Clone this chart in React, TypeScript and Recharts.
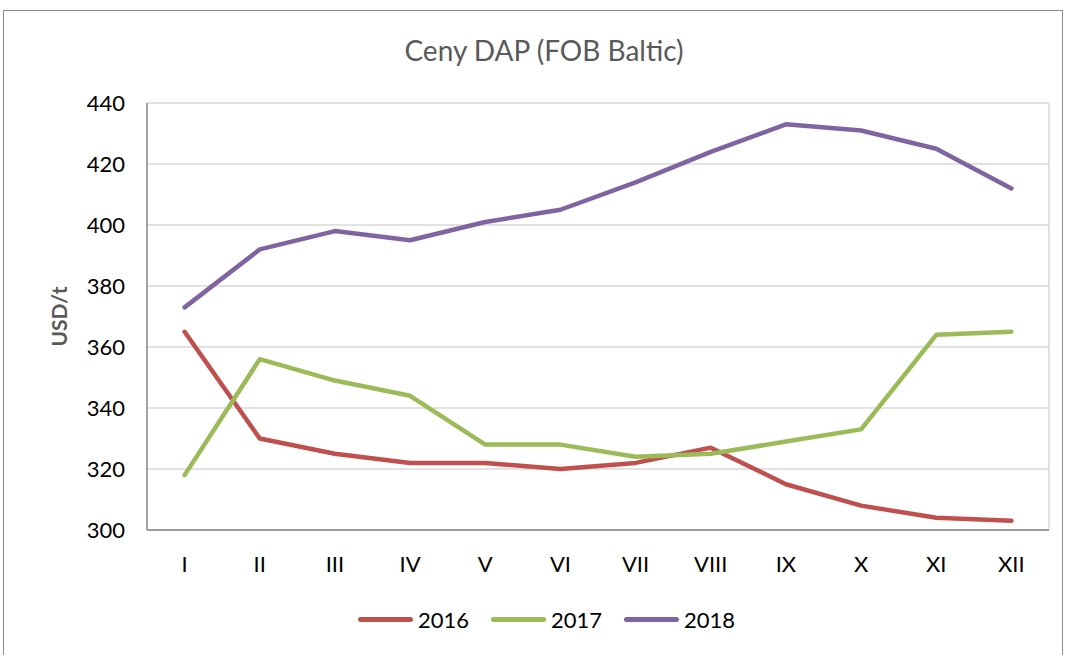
import React from "react";
import {
  CartesianGrid,
  Legend,
  Line,
  LineChart,
  XAxis,
  YAxis,
} from "recharts";

const MONTHS = ["I", "II", "III", "IV", "V", "VI", "VII", "VIII", "IX", "X", "XI", "XII"];
const Y2016 = [365, 330, 325, 322, 322, 320, 322, 327, 315, 308, 304, 303];
const Y2017 = [318, 356, 349, 344, 328, 328, 324, 325, 329, 333, 364, 365];
const Y2018 = [373, 392, 398, 395, 401, 405, 414, 424, 433, 431, 425, 412];
const Y_TICKS = [300, 320, 340, 360, 380, 400, 420, 440];

const SERIES = [
  { key: "2016", color: "#C0504D" },
  { key: "2017", color: "#9BBB59" },
  { key: "2018", color: "#8064A2" },
];

const FONT = "Lato, 'Open Sans', sans-serif";

const data = MONTHS.map((m, i) => ({
  month: m,
  "2016": Y2016[i],
  "2017": Y2017[i],
  "2018": Y2018[i],
}));

function LegendContent() {
  return (
    <div style={{ display: "flex", justifyContent: "center", alignItems: "center", fontFamily: FONT, fontSize: 22, color: "#000", paddingLeft: 44 }}>
      {SERIES.map((s, i) => (
        <div key={s.key} style={{ display: "flex", alignItems: "center", marginRight: i < SERIES.length - 1 ? 22 : 0 }}>
          <span style={{ display: "inline-block", width: 55, height: 5, borderRadius: 3, background: s.color, marginRight: 5 }} />
          <span>{s.key}</span>
        </div>
      ))}
    </div>
  );
}

export default function App() {
  return (
    <div style={{ position: "fixed", left: 0, top: 0, width: 1066, height: 655, background: "#fff", overflow: "hidden" }}>
      <div style={{ position: "absolute", left: 3, top: 10, width: 1058, height: 700, border: "1px solid #8c8c8c" }} />
      <div style={{ position: "absolute", left: 0, top: 33, width: 1088, textAlign: "center", fontFamily: FONT, fontSize: 28, color: "#595959" }}>
        Ceny DAP (FOB Baltic)
      </div>
      <div style={{ position: "absolute", left: 0, top: 0 }}>
        <LineChart width={1066} height={655} data={data} margin={{ top: 103, right: 17, bottom: 58, left: 0 }}>
          <CartesianGrid
            stroke="#d9d9d9"
            strokeWidth={1.5}
            verticalCoordinatesGenerator={({ offset }: any) => [offset.left + offset.width]}
          />
          <XAxis
            dataKey="month"
            padding={{ left: 37.6, right: 37.6 }}
            tickLine={false}
            axisLine={{ stroke: "#868686", strokeWidth: 1.5 }}
            tick={{ fontFamily: FONT, fontSize: 22, fill: "#000" }}
            tickMargin={20}
            height={40}
          />
          <YAxis
            domain={[300, 440]}
            ticks={Y_TICKS}
            width={147}
            tickLine={false}
            tickSize={0}
            tickMargin={22}
            axisLine={{ stroke: "#868686", strokeWidth: 1.5 }}
            tick={{ fontFamily: FONT, fontSize: 22, fill: "#000" }}
            label={{
              value: "USD/t",
              angle: -90,
              position: "insideLeft",
              offset: 60,
              style: { textAnchor: "middle", fontFamily: FONT, fontSize: 21, fontWeight: "bold", fill: "#595959" },
            }}
          />
          <Legend verticalAlign="bottom" content={<LegendContent />} wrapperStyle={{ top: 606 }} />
          {SERIES.map((s) => (
            <Line
              key={s.key}
              type="linear"
              dataKey={s.key}
              stroke={s.color}
              strokeWidth={4.5}
              strokeLinecap="round"
              strokeLinejoin="round"
              dot={false}
              activeDot={false}
              isAnimationActive={false}
            />
          ))}
        </LineChart>
      </div>
    </div>
  );
}
